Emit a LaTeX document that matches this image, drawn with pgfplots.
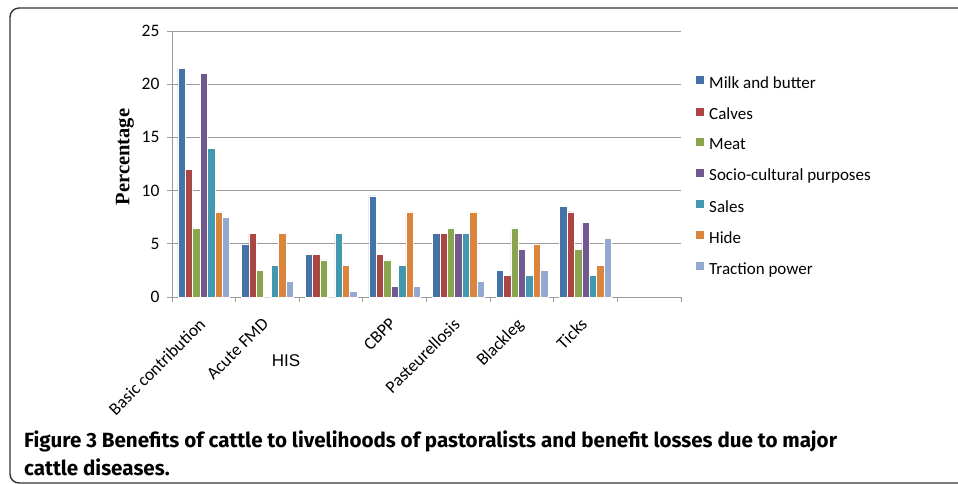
\documentclass[border=0pt]{standalone}
\usepackage{fontspec}
\setmainfont{Carlito}
\newfontfamily\timesfont{Liberation Serif}
\newfontfamily\arialfont{Liberation Sans}
\newfontfamily\capfont{Fira Sans}
\usepackage{pgfplots}
\usepackage{pgfplotstable}
\pgfplotsset{compat=1.18}
\definecolor{c1}{HTML}{4572A7}
\definecolor{c2}{HTML}{AA4643}
\definecolor{c3}{HTML}{89A54E}
\definecolor{c4}{HTML}{71588F}
\definecolor{c5}{HTML}{4198AF}
\definecolor{c6}{HTML}{DB843D}
\definecolor{c7}{HTML}{93A9CF}
\definecolor{gridgray}{HTML}{9C9C9C}
\pgfplotstableread{
x  milk calves meat socio sales hide traction
0  21.5 12 6.5 21  14 8 7.5
1  5    6  2.5 0   3  6 1.5
2  4    4  3.5 0   6  3 0.5
3  9.5  4  3.5 1   3  8 1
4  6    6  6.5 6   6  8 1.5
5  2.5  2  6.5 4.5 2  5 2.5
6  8.5  8  4.5 7   2  3 5.5
}\datatable
\begin{document}
\begin{tikzpicture}
\useasboundingbox (0,0) rectangle (958pt,-484pt);
\draw[line width=1.4pt, color=black!80, rounded corners=9pt] (10pt,-8pt) rectangle (1000pt,-483pt);
\begin{axis}[
  at={(172pt,-297pt)}, anchor=south west,
  scale only axis, width=509pt, height=266pt,
  xmin=-0.5, xmax=7.5, ymin=0, ymax=25,
  axis x line*=bottom, axis y line*=left,
  axis line style={-, draw=gridgray, line width=0.9pt},
  ytick={0,5,...,25},
  ymajorgrids, grid style={draw=gridgray, line width=0.9pt},
  tick style={draw=gridgray, line width=0.9pt},
  tick align=outside, major tick length=5pt,
  xtick={-0.5,0.5,...,7.5}, xticklabels={},
  extra x ticks={0,1,3,4,5,6},
  extra x tick labels={Basic contribution,Acute FMD,CBPP,Pasteurellosis,Blackleg,Ticks},
  extra x tick style={major tick length=0pt, tick label style={xshift=-6pt, yshift=-15pt, rotate=45, anchor=north east}},
  tick label style={font=\fontsize{17.5}{20}\selectfont},
  /pgf/number format/assume math mode=true,
  yticklabel style={xshift=-4pt},
  ybar=0pt, bar width=7.4pt,
  every axis plot/.append style={draw=white, line width=0.5pt},
  legend cell align=left,
  legend style={draw=none, fill=none, at={(1.0236,0.84)}, anchor=north west,
    font=\fontsize{17}{20}\selectfont, row sep=15.8pt,
    nodes={inner sep=1pt},
    /tikz/every odd column/.append style={column sep=4pt}},
  legend image code/.code={\fill[#1,draw=none] (0pt,-1pt) rectangle (8pt,7pt);},
]
\addplot[fill=c1] table[x=x,y=milk]{\datatable};
\addplot[fill=c2] table[x=x,y=calves]{\datatable};
\addplot[fill=c3] table[x=x,y=meat]{\datatable};
\addplot[fill=c4] table[x=x,y=socio]{\datatable};
\addplot[fill=c5] table[x=x,y=sales]{\datatable};
\addplot[fill=c6] table[x=x,y=hide]{\datatable};
\addplot[fill=c7] table[x=x,y=traction]{\datatable};
\legend{Milk and butter,Calves,Meat,Socio-cultural purposes,Sales,Hide,Traction power}
\end{axis}
\node[rotate=90] at (125pt,-157pt) {\timesfont\bfseries\fontsize{20.5}{24}\selectfont Percentage};
\node at (286pt,-361pt) {\arialfont\fontsize{17}{20}\selectfont HIS};
\node[anchor=base west, inner sep=0pt] at (24pt,-447pt) {\capfont\bfseries\fontsize{20.6}{24}\selectfont Figure 3 Benefits of cattle to livelihoods of pastoralists and benefit losses due to major};
\node[anchor=base west, inner sep=0pt] at (24pt,-475pt) {\capfont\bfseries\fontsize{20.6}{24}\selectfont cattle diseases.};
\end{tikzpicture}
\end{document}
